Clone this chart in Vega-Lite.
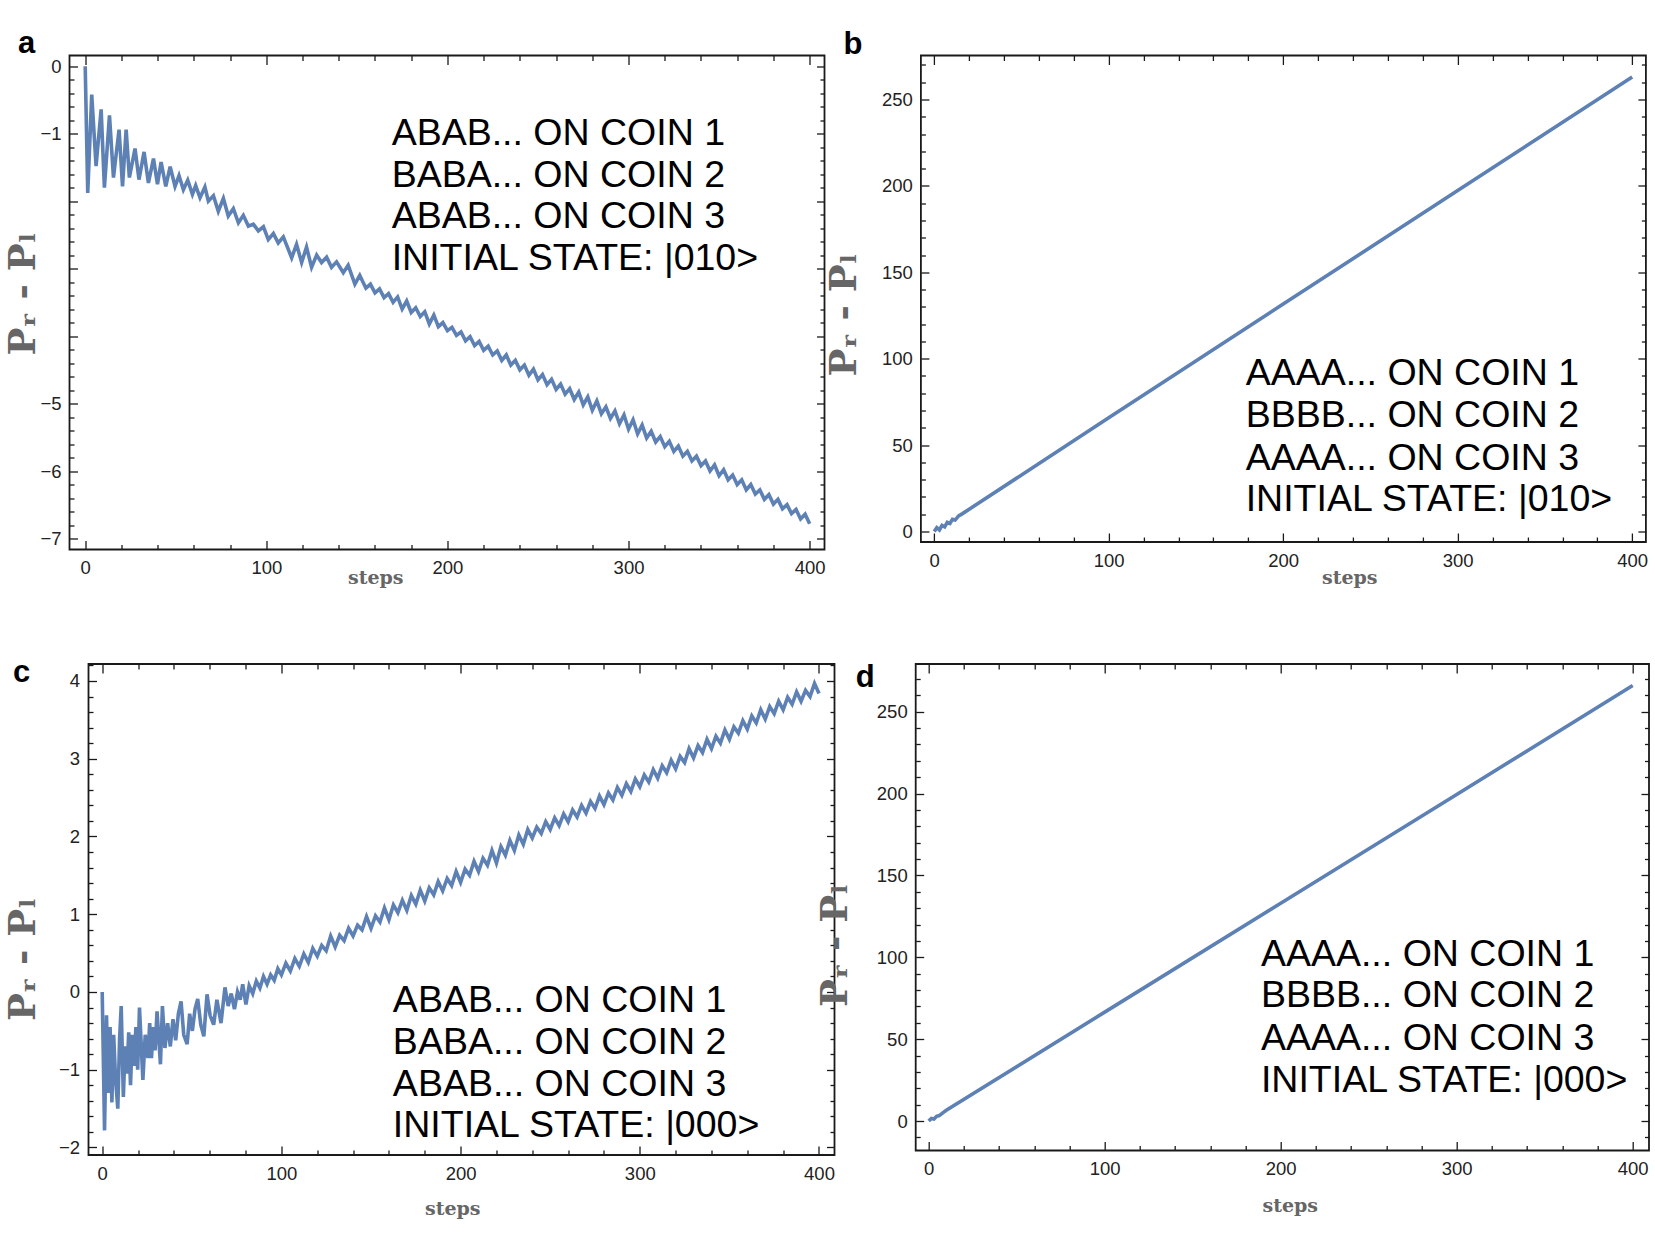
{
  "$schema": "https://vega.github.io/schema/vega-lite/v6.json",
  "background": "white",
  "padding": {"left": 3.5, "top": 26.5, "right": 2, "bottom": 2},
  "datasets": {
    "a": [
      {"step":0,"value":0},{"step":1.4,"value":-1.88},{"step":3.6,"value":-0.42},{"step":6,"value":-1.48},{"step":8.8,"value":-0.64},{"step":10.6,"value":-1.8},{"step":13.4,"value":-0.73},{"step":15.6,"value":-1.65},{"step":18.7,"value":-0.94},{"step":20.6,"value":-1.78},{"step":22.6,"value":-0.94},{"step":24.4,"value":-1.65},{"step":27.5,"value":-1.22},{"step":29.7,"value":-1.68},{"step":32.5,"value":-1.27},{"step":34.9,"value":-1.73},{"step":37.7,"value":-1.37},{"step":39.9,"value":-1.75},{"step":41.9,"value":-1.42},{"step":44.5,"value":-1.78},{"step":46.9,"value":-1.49},{"step":49.6,"value":-1.78},{"step":51.8,"value":-1.62},{"step":54.2,"value":-1.83},{"step":56.6,"value":-1.69},{"step":59.2,"value":-1.9},{"step":61,"value":-1.77},{"step":63.4,"value":-1.95},{"step":66.1,"value":-1.79},{"step":68,"value":-2.0},{"step":70.8,"value":-1.92},{"step":73.5,"value":-2.15},{"step":76.3,"value":-1.96},{"step":79,"value":-2.22},{"step":81.8,"value":-2.11},{"step":84.6,"value":-2.32},{"step":87.3,"value":-2.21},{"step":90.1,"value":-2.37},{"step":92.8,"value":-2.34},{"step":95.6,"value":-2.44},{"step":98.4,"value":-2.38},{"step":101.1,"value":-2.57},{"step":103.9,"value":-2.48},{"step":106.6,"value":-2.62},{"step":109.4,"value":-2.53},{"step":114,"value":-2.84},{"step":116.7,"value":-2.64},{"step":119.5,"value":-2.91},{"step":122.2,"value":-2.68},{"step":125,"value":-2.98},{"step":127.8,"value":-2.8},{"step":130.5,"value":-2.91},{"step":133.3,"value":-2.83},{"step":136,"value":-2.98},{"step":138.8,"value":-2.9},{"step":142.5,"value":-3.06},{"step":145.2,"value":-2.95},{"step":148.9,"value":-3.23},{"step":151.6,"value":-3.1},
      {"step":155,"value":-3.29},{"step":157.5,"value":-3.23},{"step":160,"value":-3.36},{"step":162.5,"value":-3.3},{"step":165,"value":-3.43},{"step":167.5,"value":-3.37},{"step":170,"value":-3.5},{"step":172.5,"value":-3.42},{"step":175,"value":-3.6},{"step":177.5,"value":-3.48},{"step":180,"value":-3.65},{"step":182.5,"value":-3.58},{"step":185,"value":-3.71},{"step":187.5,"value":-3.64},{"step":190,"value":-3.82},{"step":192.5,"value":-3.69},{"step":195,"value":-3.86},{"step":197.5,"value":-3.8},{"step":200,"value":-3.92},{"step":202.5,"value":-3.87},{"step":205,"value":-3.99},{"step":207.5,"value":-3.94},{"step":210,"value":-4.07},{"step":212.5,"value":-4.01},{"step":215,"value":-4.14},{"step":217.5,"value":-4.08},{"step":220,"value":-4.21},{"step":222.5,"value":-4.15},{"step":225,"value":-4.28},{"step":227.5,"value":-4.22},{"step":230,"value":-4.36},{"step":232.5,"value":-4.28},{"step":235,"value":-4.43},{"step":237.5,"value":-4.36},{"step":240,"value":-4.5},{"step":242.5,"value":-4.43},{"step":245,"value":-4.58},{"step":247.5,"value":-4.49},{"step":250,"value":-4.65},{"step":252.5,"value":-4.57},{"step":255,"value":-4.72},{"step":257.5,"value":-4.64},{"step":260,"value":-4.79},{"step":262.5,"value":-4.71},{"step":265,"value":-4.86},{"step":267.5,"value":-4.78},{"step":270,"value":-4.94},{"step":272.5,"value":-4.83},{"step":275,"value":-5.02},{"step":277.5,"value":-4.9},{"step":280,"value":-5.1},{"step":282.5,"value":-4.96},{"step":285,"value":-5.15},{"step":287.5,"value":-5.05},{"step":290,"value":-5.22},{"step":292.5,"value":-5.11},{"step":295,"value":-5.3},{"step":297.5,"value":-5.17},{"step":300,"value":-5.38},{"step":302.5,"value":-5.24},{"step":305,"value":-5.45},{"step":307.5,"value":-5.32},{"step":310,"value":-5.51},{"step":312.5,"value":-5.41},{"step":315,"value":-5.57},{"step":317.5,"value":-5.49},{"step":320,"value":-5.64},{"step":322.5,"value":-5.56},{"step":325,"value":-5.71},{"step":327.5,"value":-5.63},{"step":330,"value":-5.78},{"step":332.5,"value":-5.71},{"step":335,"value":-5.85},{"step":337.5,"value":-5.78},{"step":340,"value":-5.92},{"step":342.5,"value":-5.85},{"step":345,"value":-6.0},{"step":347.5,"value":-5.91},{"step":350,"value":-6.07},{"step":352.5,"value":-5.98},{"step":355,"value":-6.13},{"step":357.5,"value":-6.06},{"step":360,"value":-6.2},{"step":362.5,"value":-6.13},{"step":365,"value":-6.28},{"step":367.5,"value":-6.2},{"step":370,"value":-6.34},{"step":372.5,"value":-6.28},{"step":375,"value":-6.42},{"step":377.5,"value":-6.35},{"step":380,"value":-6.49},{"step":382.5,"value":-6.42},{"step":385,"value":-6.56},{"step":387.5,"value":-6.5},{"step":390,"value":-6.63},{"step":392.5,"value":-6.57},{"step":395,"value":-6.71},{"step":397.5,"value":-6.64},{"step":400,"value":-6.78}
    ],
    "b": [
      {"step":0,"value":0},{"step":1.5,"value":2.2},{"step":3,"value":0.9},{"step":4.5,"value":3.5},{"step":6,"value":2.7},{"step":7.5,"value":5.3},{"step":9,"value":4.6},{"step":10.5,"value":7.0},{"step":12,"value":6.6},{"step":14,"value":9.0},{"step":16,"value":10.2},{"step":100,"value":65.8},{"step":200,"value":131.6},{"step":300,"value":197.3},{"step":400,"value":263}
    ],
    "c": [
      {"step":0,"value":0},{"step":1.3,"value":-1.78},{"step":2.4,"value":-0.3},{"step":3.4,"value":-1.3},{"step":4.4,"value":-0.45},{"step":5.4,"value":-1.42},{"step":6.4,"value":-0.55},{"step":7.4,"value":-1.1},{"step":8.7,"value":-1.5},{"step":9.7,"value":-0.6},{"step":10.6,"value":-0.18},{"step":11.8,"value":-1.35},{"step":12.8,"value":-0.7},{"step":13.8,"value":-1.05},{"step":14.8,"value":-0.52},{"step":15.8,"value":-1.2},{"step":16.8,"value":-0.55},{"step":17.8,"value":-0.95},{"step":18.8,"value":-0.45},{"step":19.8,"value":-1.0},{"step":20.8,"value":-0.2},{"step":22.7,"value":-1.13},{"step":24,"value":-0.55},{"step":25.5,"value":-0.85},{"step":26.5,"value":-0.4},{"step":27.5,"value":-0.85},{"step":28.5,"value":-0.45},{"step":29.5,"value":-0.75},{"step":30.6,"value":-0.25},{"step":32.5,"value":-0.93},{"step":33.6,"value":-0.18},{"step":35,"value":-0.72},{"step":36.5,"value":-0.4},{"step":38,"value":-0.7},{"step":39.5,"value":-0.35},{"step":41,"value":-0.62},{"step":42.5,"value":-0.28},{"step":44,"value":-0.12},{"step":45.5,"value":-0.55},{"step":47.4,"value":-0.67},{"step":48.8,"value":-0.28},{"step":50.3,"value":-0.5},{"step":51.8,"value":-0.22},{"step":53.3,"value":-0.09},{"step":55,"value":-0.42},{"step":56.7,"value":-0.57},{"step":58.5,"value":-0.03},{"step":60.2,"value":-0.3},{"step":62.2,"value":-0.42},{"step":64,"value":-0.1},{"step":66.3,"value":-0.4},{"step":68.5,"value":0.06},{"step":70.3,"value":-0.18},{"step":72,"value":-0.02},{"step":73.8,"value":-0.22},{"step":75.5,"value":0.0},{"step":77,"value":-0.1},{"step":78.4,"value":0.1},{"step":80.2,"value":-0.16},{"step":82,"value":0.08},{"step":84,"value":-0.02},{"step":86,"value":0.14},{"step":88,"value":0.05},{"step":90,"value":0.2},{"step":92,"value":0.1},{"step":94,"value":0.22},{"step":96,"value":0.15},{"step":98,"value":0.3},
      {"step":100,"value":0.22},{"step":102.5,"value":0.37},{"step":105,"value":0.27},{"step":107.5,"value":0.43},{"step":110,"value":0.33},{"step":112.5,"value":0.49},{"step":115,"value":0.38},{"step":117.5,"value":0.56},{"step":120,"value":0.46},{"step":122.5,"value":0.6},{"step":125,"value":0.53},{"step":127.5,"value":0.72},{"step":130,"value":0.58},{"step":132.5,"value":0.73},{"step":135,"value":0.66},{"step":137.5,"value":0.82},{"step":140,"value":0.72},{"step":142.5,"value":0.86},{"step":145,"value":0.8},{"step":147.5,"value":0.97},{"step":150,"value":0.82},{"step":152.5,"value":0.98},{"step":155,"value":0.9},{"step":157.5,"value":1.08},{"step":160,"value":0.93},{"step":162.5,"value":1.12},{"step":165,"value":1.02},{"step":167.5,"value":1.18},{"step":170,"value":1.05},{"step":172.5,"value":1.24},{"step":175,"value":1.13},{"step":177.5,"value":1.31},{"step":180,"value":1.17},{"step":182.5,"value":1.34},{"step":185,"value":1.25},{"step":187.5,"value":1.42},{"step":190,"value":1.3},{"step":192.5,"value":1.46},{"step":195,"value":1.37},{"step":197.5,"value":1.55},{"step":200,"value":1.41},{"step":202.5,"value":1.58},{"step":205,"value":1.5},{"step":207.5,"value":1.68},{"step":210,"value":1.55},{"step":212.5,"value":1.72},{"step":215,"value":1.63},{"step":217.5,"value":1.82},{"step":220,"value":1.66},{"step":222.5,"value":1.87},{"step":225,"value":1.76},{"step":227.5,"value":1.95},{"step":230,"value":1.82},{"step":232.5,"value":2.02},{"step":235,"value":1.9},{"step":237.5,"value":2.09},{"step":240,"value":1.98},{"step":242.5,"value":2.12},{"step":245,"value":2.04},{"step":247.5,"value":2.19},{"step":250,"value":2.09},{"step":252.5,"value":2.24},{"step":255,"value":2.14},{"step":257.5,"value":2.29},{"step":260,"value":2.19},{"step":262.5,"value":2.34},{"step":265,"value":2.25},{"step":267.5,"value":2.4},{"step":270,"value":2.3},{"step":272.5,"value":2.45},{"step":275,"value":2.36},{"step":277.5,"value":2.52},{"step":280,"value":2.41},{"step":282.5,"value":2.56},{"step":285,"value":2.47},{"step":287.5,"value":2.63},{"step":290,"value":2.53},{"step":292.5,"value":2.68},{"step":295,"value":2.58},{"step":297.5,"value":2.74},{"step":300,"value":2.64},{"step":302.5,"value":2.79},{"step":305,"value":2.7},{"step":307.5,"value":2.86},{"step":310,"value":2.75},{"step":312.5,"value":2.91},{"step":315,"value":2.82},{"step":317.5,"value":2.98},{"step":320,"value":2.87},{"step":322.5,"value":3.03},{"step":325,"value":2.95},{"step":327.5,"value":3.13},{"step":330,"value":3.01},{"step":332.5,"value":3.17},{"step":335,"value":3.08},{"step":337.5,"value":3.25},{"step":340,"value":3.13},{"step":342.5,"value":3.29},{"step":345,"value":3.2},{"step":347.5,"value":3.37},{"step":350,"value":3.25},{"step":352.5,"value":3.41},{"step":355,"value":3.33},{"step":357.5,"value":3.49},{"step":360,"value":3.38},{"step":362.5,"value":3.55},{"step":365,"value":3.46},{"step":367.5,"value":3.63},{"step":370,"value":3.51},{"step":372.5,"value":3.67},{"step":375,"value":3.58},{"step":377.5,"value":3.74},{"step":380,"value":3.63},{"step":382.5,"value":3.79},{"step":385,"value":3.7},{"step":387.5,"value":3.86},{"step":390,"value":3.74},{"step":392.5,"value":3.88},{"step":395,"value":3.8},{"step":397.5,"value":3.97},{"step":400,"value":3.84}
    ],
    "d": [
      {"step":0,"value":0},{"step":1.5,"value":1.6},{"step":3,"value":1.2},{"step":4.5,"value":2.9},{"step":6,"value":3.3},{"step":8,"value":5.0},{"step":10,"value":6.6},{"step":100,"value":66.5},{"step":200,"value":133},{"step":300,"value":199.5},{"step":400,"value":266}
    ],
    "aT": [
      {"step":169.2,"value":-0.999,"label":"ABAB... ON COIN 1"},
      {"step":169.2,"value":-1.621,"label":"BABA... ON COIN 2"},
      {"step":169.2,"value":-2.234,"label":"ABAB... ON COIN 3"},
      {"step":169.2,"value":-2.859,"label":"INITIAL STATE: |010>"}
    ],
    "bT": [
      {"step":178.5,"value":91.0,"label":"AAAA... ON COIN 1"},
      {"step":178.5,"value":66.6,"label":"BBBB... ON COIN 2"},
      {"step":178.5,"value":42.2,"label":"AAAA... ON COIN 3"},
      {"step":178.5,"value":18.35,"label":"INITIAL STATE: |010>"}
    ],
    "cT": [
      {"step":162.2,"value":-0.111,"label":"ABAB... ON COIN 1"},
      {"step":162.2,"value":-0.653,"label":"BABA... ON COIN 2"},
      {"step":162.2,"value":-1.197,"label":"ABAB... ON COIN 3"},
      {"step":162.2,"value":-1.725,"label":"INITIAL STATE: |000>"}
    ],
    "dT": [
      {"step":188.75,"value":101.3,"label":"AAAA... ON COIN 1"},
      {"step":188.75,"value":76.1,"label":"BBBB... ON COIN 2"},
      {"step":188.75,"value":50.3,"label":"AAAA... ON COIN 3"},
      {"step":188.75,"value":24.5,"label":"INITIAL STATE: |000>"}
    ]
  },
  "vconcat": [
    {
      "spacing": -1.6,
      "hconcat": [
        {
          "width": 755, "height": 494,
          "title": {"text": "a", "anchor": "start", "frame": "group", "orient": "top", "offset": 0, "dy": 29.5, "dx": -51.6, "fontSize": 31, "font": "Liberation Sans", "fontWeight": "bold", "color": "#000", "baseline": "alphabetic"},
          "resolve": {"axis": {"x": "independent", "y": "independent"}},
          "layer": [
            {"data": {"name": "a"}, "mark": {"type": "line", "color": "#5e81b5", "strokeWidth": 3.6},
             "encoding": {
               "x": {"field": "step", "type": "quantitative", "scale": {"domain": [-8.67, 408.2], "nice": false, "zero": false},
                     "axis": {"orient": "bottom", "values": [0,100,200,300,400], "tickSize": -9, "labelPadding": 18.3, "title": "steps", "titleX": 305.7, "titleY": 28, "titleAlign": "center", "titleBaseline": "middle", "titleFontSize": 19}},
               "y": {"field": "value", "type": "quantitative", "scale": {"domain": [-7.163, 0.1586], "nice": false, "zero": false},
                     "axis": {"orient": "left", "values": [0,-1,-2,-3,-4,-5,-6,-7], "tickSize": -8, "labelPadding": 16.5, "labelExpr": "(datum.value < -1.5 && datum.value > -4.5) ? '' : datum.label", "title": "Pᵣ  -  Pₗ", "titleX": -45.8, "titleY": 238, "titleAlign": "center", "titleBaseline": "middle", "titleAngle": 270, "titleFontSize": 37}}
             }},
            {"data": {"name": "a"}, "mark": {"type": "line", "opacity": 0},
             "encoding": {
               "x": {"field": "step", "type": "quantitative", "scale": {"domain": [-8.67, 408.2], "nice": false, "zero": false},
                     "axis": {"orient": "bottom", "values": [20,40,60,80,120,140,160,180,220,240,260,280,320,340,360,380], "tickSize": -5, "labels": false, "title": null}},
               "y": {"field": "value", "type": "quantitative", "scale": {"domain": [-7.163, 0.1586], "nice": false, "zero": false},
                     "axis": {"orient": "left", "values": [-6.8,-6.6,-6.4,-6.2,-5.8,-5.6,-5.4,-5.2,-4.8,-4.6,-4.4,-4.2,-3.8,-3.6,-3.4,-3.2,-2.8,-2.6,-2.4,-2.2,-1.8,-1.6,-1.4,-1.2,-0.8,-0.6,-0.4,-0.2], "tickSize": -4.5, "labels": false, "title": null}}
             }},
            {"data": {"name": "a"}, "mark": {"type": "line", "opacity": 0},
             "encoding": {
               "x": {"field": "step", "type": "quantitative", "scale": {"domain": [-8.67, 408.2], "nice": false, "zero": false},
                     "axis": {"orient": "top", "values": [0,100,200,300,400], "tickSize": -9, "labels": false, "title": null}},
               "y": {"field": "value", "type": "quantitative", "scale": {"domain": [-7.163, 0.1586], "nice": false, "zero": false},
                     "axis": {"orient": "right", "values": [0,-1,-2,-3,-4,-5,-6,-7], "tickSize": -8, "labels": false, "title": null}}
             }},
            {"data": {"name": "a"}, "mark": {"type": "line", "opacity": 0},
             "encoding": {
               "x": {"field": "step", "type": "quantitative", "scale": {"domain": [-8.67, 408.2], "nice": false, "zero": false},
                     "axis": {"orient": "top", "values": [20,40,60,80,120,140,160,180,220,240,260,280,320,340,360,380], "tickSize": -5, "labels": false, "title": null}},
               "y": {"field": "value", "type": "quantitative", "scale": {"domain": [-7.163, 0.1586], "nice": false, "zero": false},
                     "axis": {"orient": "right", "values": [-6.8,-6.6,-6.4,-6.2,-5.8,-5.6,-5.4,-5.2,-4.8,-4.6,-4.4,-4.2,-3.8,-3.6,-3.4,-3.2,-2.8,-2.6,-2.4,-2.2,-1.8,-1.6,-1.4,-1.2,-0.8,-0.6,-0.4,-0.2], "tickSize": -4.5, "labels": false, "title": null}}
             }},
            {"data": {"name": "aT"}, "mark": {"type": "text", "align": "left", "baseline": "middle", "fontSize": 37.5, "font": "Liberation Sans", "color": "#000"},
             "encoding": {
               "x": {"field": "step", "type": "quantitative", "scale": {"domain": [-8.67, 408.2], "nice": false, "zero": false}, "axis": null},
               "y": {"field": "value", "type": "quantitative", "scale": {"domain": [-7.163, 0.1586], "nice": false, "zero": false}, "axis": null},
               "text": {"field": "label"}
             }}
          ]
        },
        {
          "width": 725, "height": 486.5,
          "title": {"text": "b", "anchor": "start", "frame": "group", "orient": "top", "offset": 0, "dy": 30.5, "dx": -77.4, "fontSize": 31, "font": "Liberation Sans", "fontWeight": "bold", "color": "#000", "baseline": "alphabetic"},
          "resolve": {"axis": {"x": "independent", "y": "independent"}},
          "layer": [
            {"data": {"name": "b"}, "mark": {"type": "line", "color": "#5e81b5", "strokeWidth": 3.6},
             "encoding": {
               "x": {"field": "step", "type": "quantitative", "scale": {"domain": [-7.62, 407.85], "nice": false, "zero": false},
                     "axis": {"orient": "bottom", "values": [0,100,200,300,400], "tickSize": -9, "labelPadding": 18.3, "title": "steps", "titleX": 428.3, "titleY": 35.5, "titleAlign": "center", "titleBaseline": "middle", "titleFontSize": 19}},
               "y": {"field": "value", "type": "quantitative", "scale": {"domain": [-6.08, 275.46], "nice": false, "zero": false},
                     "axis": {"orient": "left", "values": [0,50,100,150,200,250], "tickSize": -8, "labelPadding": 16.5, "title": "Pᵣ  -  Pₗ", "titleX": -76, "titleY": 259, "titleAlign": "center", "titleBaseline": "middle", "titleAngle": 270, "titleFontSize": 37}}
             }},
            {"data": {"name": "b"}, "mark": {"type": "line", "opacity": 0},
             "encoding": {
               "x": {"field": "step", "type": "quantitative", "scale": {"domain": [-7.62, 407.85], "nice": false, "zero": false},
                     "axis": {"orient": "bottom", "values": [20,40,60,80,120,140,160,180,220,240,260,280,320,340,360,380], "tickSize": -5, "labels": false, "title": null}},
               "y": {"field": "value", "type": "quantitative", "scale": {"domain": [-6.08, 275.46], "nice": false, "zero": false},
                     "axis": {"orient": "left", "values": [10,20,30,40,60,70,80,90,110,120,130,140,160,170,180,190,210,220,230,240,260,270], "tickSize": -4.5, "labels": false, "title": null}}
             }},
            {"data": {"name": "b"}, "mark": {"type": "line", "opacity": 0},
             "encoding": {
               "x": {"field": "step", "type": "quantitative", "scale": {"domain": [-7.62, 407.85], "nice": false, "zero": false},
                     "axis": {"orient": "top", "values": [0,100,200,300,400], "tickSize": -9, "labels": false, "title": null}},
               "y": {"field": "value", "type": "quantitative", "scale": {"domain": [-6.08, 275.46], "nice": false, "zero": false},
                     "axis": {"orient": "right", "values": [0,50,100,150,200,250], "tickSize": -8, "labels": false, "title": null}}
             }},
            {"data": {"name": "b"}, "mark": {"type": "line", "opacity": 0},
             "encoding": {
               "x": {"field": "step", "type": "quantitative", "scale": {"domain": [-7.62, 407.85], "nice": false, "zero": false},
                     "axis": {"orient": "top", "values": [20,40,60,80,120,140,160,180,220,240,260,280,320,340,360,380], "tickSize": -5, "labels": false, "title": null}},
               "y": {"field": "value", "type": "quantitative", "scale": {"domain": [-6.08, 275.46], "nice": false, "zero": false},
                     "axis": {"orient": "right", "values": [10,20,30,40,60,70,80,90,110,120,130,140,160,170,180,190,210,220,230,240,260,270], "tickSize": -4.5, "labels": false, "title": null}}
             }},
            {"data": {"name": "bT"}, "mark": {"type": "text", "align": "left", "baseline": "middle", "fontSize": 37.5, "font": "Liberation Sans", "color": "#000"},
             "encoding": {
               "x": {"field": "step", "type": "quantitative", "scale": {"domain": [-7.62, 407.85], "nice": false, "zero": false}, "axis": null},
               "y": {"field": "value", "type": "quantitative", "scale": {"domain": [-6.08, 275.46], "nice": false, "zero": false}, "axis": null},
               "text": {"field": "label"}
             }}
          ]
        }
      ]
    },
    {
      "spacing": -21.8,
      "hconcat": [
        {
          "bounds": "flush",
          "spacing": 18,
          "hconcat": [
            {"width": 1, "height": 1, "view": {"stroke": null}, "data": {"values": []}, "mark": "point"},
            {
              "width": 746, "height": 491,
              "title": {"text": "c", "anchor": "start", "frame": "group", "orient": "top", "offset": 0, "dy": 49.5, "dx": -75.6, "fontSize": 31, "font": "Liberation Sans", "fontWeight": "bold", "color": "#000", "baseline": "alphabetic"},
              "resolve": {"axis": {"x": "independent", "y": "independent"}},
              "layer": [
                {"data": {"name": "c"}, "mark": {"type": "line", "color": "#5e81b5", "strokeWidth": 3.6},
                 "encoding": {
                   "x": {"field": "step", "type": "quantitative", "scale": {"domain": [-7.65, 408.65], "nice": false, "zero": false},
                         "axis": {"orient": "bottom", "values": [0,100,200,300,400], "tickSize": -9, "labelPadding": 18.3, "title": "steps", "titleX": 363.7, "titleY": 53, "titleAlign": "center", "titleBaseline": "middle", "titleFontSize": 19}},
                   "y": {"field": "value", "type": "quantitative", "scale": {"domain": [-2.0965, 4.2186], "nice": false, "zero": false},
                         "axis": {"orient": "left", "values": [-2,-1,0,1,2,3,4], "tickSize": -8, "labelPadding": 17, "title": "Pᵣ  -  Pₗ", "titleX": -64.8, "titleY": 295, "titleAlign": "center", "titleBaseline": "middle", "titleAngle": 270, "titleFontSize": 37}}
                 }},
                {"data": {"name": "c"}, "mark": {"type": "line", "opacity": 0},
                 "encoding": {
                   "x": {"field": "step", "type": "quantitative", "scale": {"domain": [-7.65, 408.65], "nice": false, "zero": false},
                         "axis": {"orient": "bottom", "values": [20,40,60,80,120,140,160,180,220,240,260,280,320,340,360,380], "tickSize": -5, "labels": false, "title": null}},
                   "y": {"field": "value", "type": "quantitative", "scale": {"domain": [-2.0965, 4.2186], "nice": false, "zero": false},
                         "axis": {"orient": "left", "values": [-1.8,-1.6,-1.4,-1.2,-0.8,-0.6,-0.4,-0.2,0.2,0.4,0.6,0.8,1.2,1.4,1.6,1.8,2.2,2.4,2.6,2.8,3.2,3.4,3.6,3.8,4.2], "tickSize": -4.5, "labels": false, "title": null}}
                 }},
                {"data": {"name": "c"}, "mark": {"type": "line", "opacity": 0},
                 "encoding": {
                   "x": {"field": "step", "type": "quantitative", "scale": {"domain": [-7.65, 408.65], "nice": false, "zero": false},
                         "axis": {"orient": "top", "values": [0,100,200,300,400], "tickSize": -9, "labels": false, "title": null}},
                   "y": {"field": "value", "type": "quantitative", "scale": {"domain": [-2.0965, 4.2186], "nice": false, "zero": false},
                         "axis": {"orient": "right", "values": [-2,-1,0,1,2,3,4], "tickSize": -8, "labels": false, "title": null}}
                 }},
                {"data": {"name": "c"}, "mark": {"type": "line", "opacity": 0},
                 "encoding": {
                   "x": {"field": "step", "type": "quantitative", "scale": {"domain": [-7.65, 408.65], "nice": false, "zero": false},
                         "axis": {"orient": "top", "values": [20,40,60,80,120,140,160,180,220,240,260,280,320,340,360,380], "tickSize": -5, "labels": false, "title": null}},
                   "y": {"field": "value", "type": "quantitative", "scale": {"domain": [-2.0965, 4.2186], "nice": false, "zero": false},
                         "axis": {"orient": "right", "values": [-1.8,-1.6,-1.4,-1.2,-0.8,-0.6,-0.4,-0.2,0.2,0.4,0.6,0.8,1.2,1.4,1.6,1.8,2.2,2.4,2.6,2.8,3.2,3.4,3.6,3.8,4.2], "tickSize": -4.5, "labels": false, "title": null}}
                 }},
                {"data": {"name": "cT"}, "mark": {"type": "text", "align": "left", "baseline": "middle", "fontSize": 37.5, "font": "Liberation Sans", "color": "#000"},
                 "encoding": {
                   "x": {"field": "step", "type": "quantitative", "scale": {"domain": [-7.65, 408.65], "nice": false, "zero": false}, "axis": null},
                   "y": {"field": "value", "type": "quantitative", "scale": {"domain": [-2.0965, 4.2186], "nice": false, "zero": false}, "axis": null},
                   "text": {"field": "label"}
                 }}
              ]
            }
          ]
        },
        {
          "width": 733.3, "height": 486.5,
          "title": {"text": "d", "anchor": "start", "frame": "group", "orient": "top", "offset": 0, "dy": 55, "dx": -60, "fontSize": 31, "font": "Liberation Sans", "fontWeight": "bold", "color": "#000", "baseline": "alphabetic"},
          "resolve": {"axis": {"x": "independent", "y": "independent"}},
          "layer": [
            {"data": {"name": "d"}, "mark": {"type": "line", "color": "#5e81b5", "strokeWidth": 3.6},
             "encoding": {
               "x": {"field": "step", "type": "quantitative", "scale": {"domain": [-7.39, 409.26], "nice": false, "zero": false},
                     "axis": {"orient": "bottom", "values": [0,100,200,300,400], "tickSize": -9, "labelPadding": 18.3, "title": "steps", "titleX": 374, "titleY": 54.5, "titleAlign": "center", "titleBaseline": "middle", "titleFontSize": 19}},
               "y": {"field": "value", "type": "quantitative", "scale": {"domain": [-18.02, 279.17], "nice": false, "zero": false},
                     "axis": {"orient": "left", "values": [0,50,100,150,200,250], "tickSize": -8, "labelPadding": 16.5, "title": "Pᵣ  -  Pₗ", "titleX": -80.5, "titleY": 281, "titleAlign": "center", "titleBaseline": "middle", "titleAngle": 270, "titleFontSize": 37}}
             }},
            {"data": {"name": "d"}, "mark": {"type": "line", "opacity": 0},
             "encoding": {
               "x": {"field": "step", "type": "quantitative", "scale": {"domain": [-7.39, 409.26], "nice": false, "zero": false},
                     "axis": {"orient": "bottom", "values": [20,40,60,80,120,140,160,180,220,240,260,280,320,340,360,380], "tickSize": -5, "labels": false, "title": null}},
               "y": {"field": "value", "type": "quantitative", "scale": {"domain": [-18.02, 279.17], "nice": false, "zero": false},
                     "axis": {"orient": "left", "values": [-10,10,20,30,40,60,70,80,90,110,120,130,140,160,170,180,190,210,220,230,240,260,270], "tickSize": -4.5, "labels": false, "title": null}}
             }},
            {"data": {"name": "d"}, "mark": {"type": "line", "opacity": 0},
             "encoding": {
               "x": {"field": "step", "type": "quantitative", "scale": {"domain": [-7.39, 409.26], "nice": false, "zero": false},
                     "axis": {"orient": "top", "values": [0,100,200,300,400], "tickSize": -9, "labels": false, "title": null}},
               "y": {"field": "value", "type": "quantitative", "scale": {"domain": [-18.02, 279.17], "nice": false, "zero": false},
                     "axis": {"orient": "right", "values": [0,50,100,150,200,250], "tickSize": -8, "labels": false, "title": null}}
             }},
            {"data": {"name": "d"}, "mark": {"type": "line", "opacity": 0},
             "encoding": {
               "x": {"field": "step", "type": "quantitative", "scale": {"domain": [-7.39, 409.26], "nice": false, "zero": false},
                     "axis": {"orient": "top", "values": [20,40,60,80,120,140,160,180,220,240,260,280,320,340,360,380], "tickSize": -5, "labels": false, "title": null}},
               "y": {"field": "value", "type": "quantitative", "scale": {"domain": [-18.02, 279.17], "nice": false, "zero": false},
                     "axis": {"orient": "right", "values": [-10,10,20,30,40,60,70,80,90,110,120,130,140,160,170,180,190,210,220,230,240,260,270], "tickSize": -4.5, "labels": false, "title": null}}
             }},
            {"data": {"name": "dT"}, "mark": {"type": "text", "align": "left", "baseline": "middle", "fontSize": 37.5, "font": "Liberation Sans", "color": "#000"},
             "encoding": {
               "x": {"field": "step", "type": "quantitative", "scale": {"domain": [-7.39, 409.26], "nice": false, "zero": false}, "axis": null},
               "y": {"field": "value", "type": "quantitative", "scale": {"domain": [-18.02, 279.17], "nice": false, "zero": false}, "axis": null},
               "text": {"field": "label"}
             }}
          ]
        }
      ]
    }
  ],
  "spacing": 66.5,
  "config": {
    "view": {"stroke": "#1a1a1a", "strokeWidth": 1.8},
    "axis": {"grid": false, "domain": false, "minExtent": 0, "tickColor": "#1a1a1a", "tickWidth": 1.3, "labelFont": "Liberation Sans", "labelFontSize": 18.5, "labelColor": "#222", "labelFlush": false, "labelOverlap": false, "titleFont": "DejaVu Serif", "titleFontWeight": "bold", "titleColor": "#666"}
  }
}
